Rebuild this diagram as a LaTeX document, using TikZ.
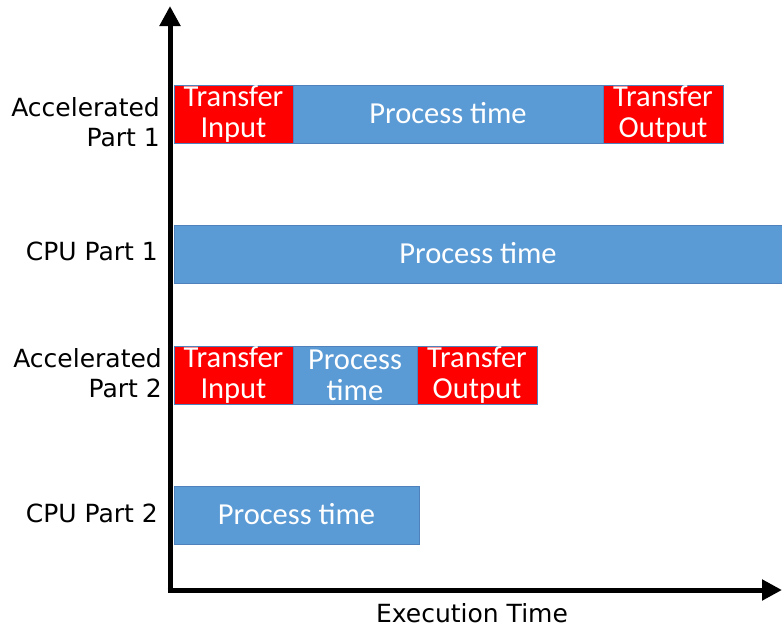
\documentclass[tikz,border=0pt]{standalone}
\usepackage{fontspec}
\setmainfont{DejaVu Sans}
\newfontfamily\barfont{Carlito}
\usetikzlibrary{arrows.meta}
\definecolor{procblue}{HTML}{5B9BD5}
\definecolor{xferred}{HTML}{FF0000}
\definecolor{edgeblue}{HTML}{4F81BD}
\tikzset{
  seg/.style={draw=edgeblue, line width=0.6pt, inner sep=0pt, outer sep=0pt,
    minimum height=58pt, anchor=north west,
    text=white, align=center, font=\barfont\fontsize{30.5}{31}\selectfont},
  proc/.style={seg, fill=procblue},
  xfer/.style={seg, fill=xferred},
  oneline/.style={text depth=3pt},
  rowlabel/.style={anchor=east, align=right, inner sep=0pt,
    font=\fontsize{25}{30}\selectfont},
  axis/.style={line width=5pt, -{Triangle[length=20pt,width=20pt]}}
}
\begin{document}
\begin{tikzpicture}[x=1pt,y=-1pt]
\useasboundingbox (0,0) rectangle (782,629);
% axes
\coordinate (ybase) at (170,592.5);
\coordinate (xbase) at (167.5,590);
\coordinate (ytip) at (170,6);
\coordinate (xtip) at (782,590);
\draw[axis] (ybase) -- (ytip);
\draw[axis] (xbase) -- (xtip);
% row 1: accelerated part 1
\node[xfer, minimum width=119pt] (a1in) at (174,85) {Transfer\\Input};
\node[proc, oneline, minimum width=310pt] (a1p) at (293,85) {Process time};
\node[xfer, minimum width=120pt] (a1out) at (603,85) {Transfer\\Output};
% row 2: cpu part 1
\node[proc, oneline, minimum width=608pt] (c1p) at (174,225) {Process time};
% row 3: accelerated part 2
\node[xfer, minimum width=119pt] (a2in) at (174,346) {Transfer\\Input};
\node[proc, minimum width=124pt] (a2p) at (293,346) {Process\\time};
\node[xfer, minimum width=120pt] (a2out) at (417,346) {Transfer\\Output};
% row 4: cpu part 2
\node[proc, oneline, minimum width=245pt] (c2p) at (174,486) {Process time};
% row labels
\node[rowlabel] (l1) at (160,122) {Accelerated\\Part 1};
\node[rowlabel] (l2) at (158,251) {CPU Part 1};
\node[rowlabel] (l3) at (162,373) {Accelerated\\Part 2};
\node[rowlabel] (l4) at (158,513) {CPU Part 2};
% axis title
\node[font=\fontsize{25}{30}\selectfont] (xlabel) at (472,613) {Execution Time};
\end{tikzpicture}
\end{document}
